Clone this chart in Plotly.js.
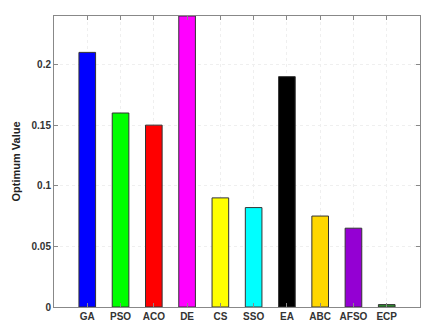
<!DOCTYPE html>
<html><head><meta charset="utf-8">
<script src="https://cdn.plot.ly/plotly-3.0.1.min.js"></script>
<style>html,body{margin:0;padding:0;background:#fff;}#c{width:428px;height:333px;}</style>
</head><body><div id="c"></div>
<script>
const categories = ['GA','PSO','ACO','DE','CS','SSO','EA','ABC','AFSO','ECP'];
const values = [0.21, 0.16, 0.15, 0.24, 0.09, 0.082, 0.19, 0.075, 0.065, 0.002];
const colors = ['#0000FF','#00FF00','#FF0000','#FF00FF','#FFFF00','#00FFFF','#000000','#FFD700','#9400D3','#2E8B2E'];
const yTicks = [0, 0.05, 0.1, 0.15, 0.2];
const yTickText = ['0','0.05','0.1','0.15','0.2'];

const trace = {
  type: 'bar',
  x: categories,
  y: values,
  width: 0.5,
  marker: {color: colors, line: {color: '#333', width: 1}},
  hoverinfo: 'x+y'
};
const tickFont = {family: 'Liberation Sans, Arial, sans-serif', size: 10, color: '#333', weight: 'bold'};
const layout = {
  width: 428, height: 333,
  margin: {l: 54, r: 8, t: 16, b: 26},
  paper_bgcolor: '#fff', plot_bgcolor: '#fff',
  showlegend: false,
  bargap: 0.5,
  xaxis: {
    type: 'category', range: [-1, 10],
    showline: true, linecolor: '#888', linewidth: 1, mirror: 'ticks',
    ticks: 'inside', ticklen: 4, tickcolor: '#888',
    showgrid: true, gridcolor: '#efefef', griddash: 'dot',
    tickfont: tickFont, zeroline: false
  },
  yaxis: {
    range: [0, 0.24],
    tickvals: yTicks, ticktext: yTickText,
    showline: true, linecolor: '#888', linewidth: 1, mirror: 'ticks',
    ticks: 'inside', ticklen: 4, tickcolor: '#888',
    showgrid: true, gridcolor: '#efefef', griddash: 'dot',
    tickfont: tickFont, zeroline: false,
    title: {text: 'Optimum Value', font: {family: 'Liberation Sans, Arial, sans-serif', size: 11, color: '#222', weight: 'bold'}, standoff: 8}
  }
};
Plotly.newPlot('c', [trace], layout, {staticPlot: true, displayModeBar: false});
</script></body></html>
